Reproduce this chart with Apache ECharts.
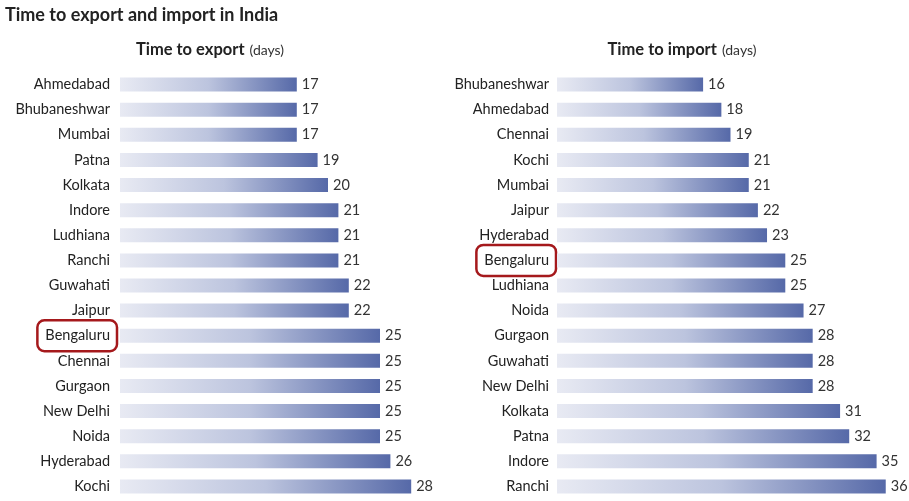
<!DOCTYPE html>
<html><head><meta charset="utf-8">
<script src="https://cdn.jsdelivr.net/npm/echarts@6/dist/echarts.min.js"></script>
<style>html,body{margin:0;padding:0;background:#fff}#c{width:909px;height:501px}</style>
</head><body><div id="c"></div>
<script>
var exportCities = ['Ahmedabad','Bhubaneshwar','Mumbai','Patna','Kolkata','Indore','Ludhiana','Ranchi','Guwahati','Jaipur','Bengaluru','Chennai','Gurgaon','New Delhi','Noida','Hyderabad','Kochi'];
var exportDays = [17,17,17,19,20,21,21,21,22,22,25,25,25,25,25,26,28];
var importCities = ['Bhubaneshwar','Ahmedabad','Chennai','Kochi','Mumbai','Jaipur','Hyderabad','Bengaluru','Ludhiana','Noida','Gurgaon','Guwahati','New Delhi','Kolkata','Patna','Indore','Ranchi'];
var importDays = [16,18,19,21,21,22,23,25,25,27,28,28,28,31,32,35,36];
var highlight = 'Bengaluru';
var FONT = 'Lato';
var FS = 14.5;

var chart = echarts.init(document.getElementById('c'));
var grad = new echarts.graphic.LinearGradient(0,0,1,0,[
  {offset:0,color:'#e8eaf3'},{offset:0.5,color:'#bcc4de'},{offset:1,color:'#5669a8'}]);
function labelFmt(v){ return v===highlight ? '{hl|'+v+'}' : '{n|'+v+'}'; }
function yAxis(idx, cats, margin){
  return {type:'category', gridIndex:idx, data:cats, inverse:true,
    axisLine:{show:false}, axisTick:{show:false},
    axisLabel:{margin:margin, color:'#222', fontSize:FS, fontFamily:FONT, formatter:labelFmt,
      rich:{
        n:{fontSize:FS, fontFamily:FONT, color:'#222', padding:[0,7,0,0]},
        hl:{fontSize:FS, fontFamily:FONT, color:'#222', borderColor:'#a5191c', borderWidth:2.5, borderRadius:7, padding:[8,7,8,8]}}}};
}
function xAxis(idx, max){
  return {type:'value', gridIndex:idx, min:0, max:max, show:false, splitLine:{show:false}};
}
function series(idx, vals){
  return {type:'bar', xAxisIndex:idx, yAxisIndex:idx, data:vals, barWidth:14,
    itemStyle:{color:grad}, label:{show:true, position:'right', distance:5, color:'#333', fontSize:FS, fontFamily:FONT}};
}
var sub = {rich:{b:{fontSize:16.5,fontWeight:'bold',color:'#222',fontFamily:FONT},n:{fontSize:14,fontWeight:'normal',color:'#333',fontFamily:FONT}}};
chart.setOption({
  animation:false,
  title:[
    {text:'Time to export and import in India', left:5, top:6, padding:0, textStyle:{fontSize:18, fontWeight:'bold', color:'#222', fontFamily:FONT}},
    {text:'{b|Time to export} {n|(days)}', left:210, top:41, padding:0, textAlign:'center', textStyle:sub},
    {text:'{b|Time to import} {n|(days)}', left:682, top:41, padding:0, textAlign:'center', textStyle:sub}
  ],
  grid:[
    {left:120, width:312, top:72, height:427},
    {left:557, width:347, top:72, height:427}
  ],
  xAxis:[xAxis(0,30), xAxis(1,38)],
  yAxis:[yAxis(0,exportCities,3), yAxis(1,importCities,1)],
  series:[series(0,exportDays), series(1,importDays)]
});
</script></body></html>
